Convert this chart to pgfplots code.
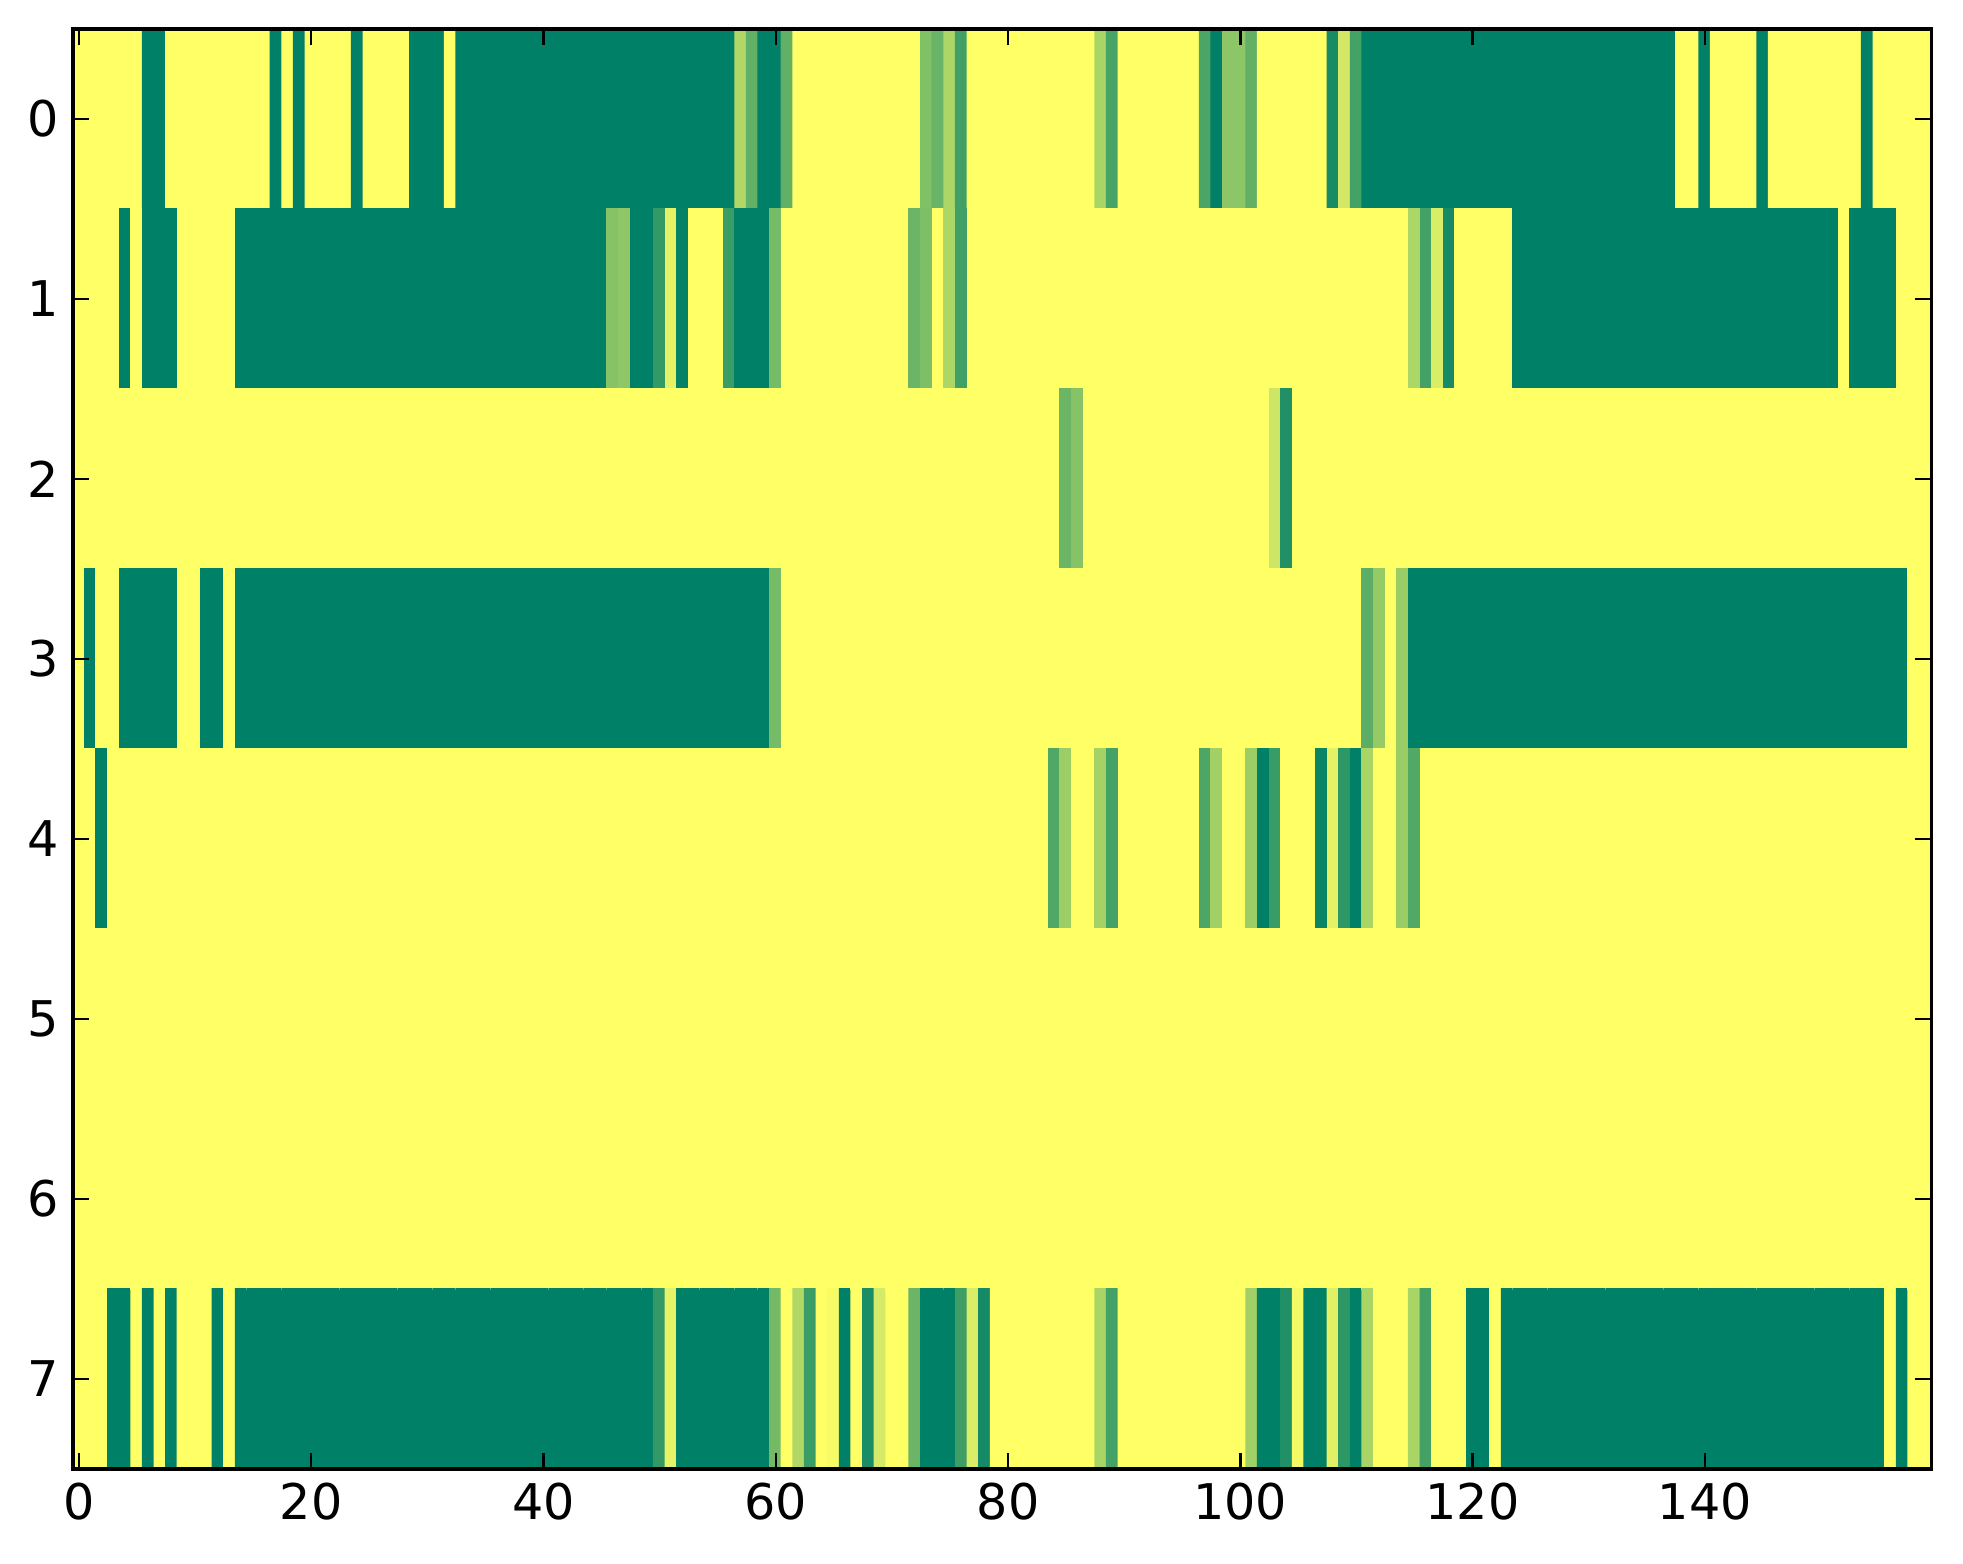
\documentclass[border=0pt]{standalone}
\usepackage{fontspec}
\setmainfont{DejaVu Sans}
\usepackage{pgfplots}
\pgfplotsset{compat=1.18}
\begin{document}
\begin{tikzpicture}
\begin{axis}[
  scale only axis, width=464.6pt, height=360pt,
  xmin=-0.5, xmax=159.5, ymin=-0.5, ymax=7.5, y dir=reverse,
  xtick={0,20,...,140}, ytick={0,...,7},
  tick align=inside, tick pos=both,
  major tick length=4pt,
  axis line style={line width=0.8pt},
  every tick/.style={black, line width=0.6pt},
  colormap={summer}{rgb=(0,0.5,0.4) rgb=(1,1,0.4)},
  point meta min=0, point meta max=1,
  /pgf/number format/assume math mode=true,
  ticklabel style={font=\fontsize{12.3}{14}\selectfont},
  axis on top,
]
\addplot[matrix plot*, mesh/cols=160, point meta=\thisrowno{0}] table[header=false, row sep=\\, x expr={\coordindex-160*floor(\coordindex/160)}, y expr={floor(\coordindex/160)}] {
% row 0
1\\1\\1\\1\\1\\1\\0\\0\\1\\1\\
1\\1\\1\\1\\1\\1\\1\\0\\1\\0\\
1\\1\\1\\1\\0\\1\\1\\1\\1\\0\\
0\\0\\1\\0\\0\\0\\0\\0\\0\\0\\
0\\0\\0\\0\\0\\0\\0\\0\\0\\0\\
0\\0\\0\\0\\0\\0\\0\\0.69\\0.38\\0\\
0\\0.38\\1\\1\\1\\1\\1\\1\\1\\1\\
1\\1\\1\\0.5\\0.41\\0.67\\0.25\\1\\1\\1\\
1\\1\\1\\1\\1\\1\\1\\1\\0.66\\0.28\\
1\\1\\1\\1\\1\\1\\1\\0.29\\0\\0.55\\
0.55\\0.38\\1\\1\\1\\1\\1\\1\\0.09\\0.82\\
0.27\\0\\0\\0\\0\\0\\0\\0\\0\\0\\
0\\0\\0\\0\\0\\0\\0\\0\\0\\0\\
0\\0\\0\\0\\0\\0\\0\\0\\1\\1\\
0\\1\\1\\1\\1\\0\\1\\1\\1\\1\\
1\\1\\1\\1\\0\\1\\1\\1\\1\\1\\
% row 1
1\\1\\1\\1\\0\\1\\0\\0\\0\\1\\
1\\1\\1\\1\\0\\0\\0\\0\\0\\0\\
0\\0\\0\\0\\0\\0\\0\\0\\0\\0\\
0\\0\\0\\0\\0\\0\\0\\0\\0\\0\\
0\\0\\0\\0\\0\\0\\0.52\\0.56\\0\\0\\
0.2\\0.89\\0.02\\1\\1\\1\\0.23\\0\\0\\0\\
0.46\\1\\1\\1\\1\\1\\1\\1\\1\\1\\
1\\1\\0.42\\0.49\\1\\0.67\\0.25\\1\\1\\1\\
1\\1\\1\\1\\1\\1\\1\\1\\1\\1\\
1\\1\\1\\1\\1\\1\\1\\1\\1\\1\\
1\\1\\1\\1\\1\\1\\1\\1\\1\\1\\
1\\1\\1\\1\\1\\0.67\\0.26\\0.85\\0.09\\1\\
1\\1\\1\\1\\0\\0\\0\\0\\0\\0\\
0\\0\\0\\0\\0\\0\\0\\0\\0\\0\\
0\\0\\0\\0\\0\\0\\0\\0\\0\\0\\
0\\0\\1\\0\\0\\0\\0\\1\\1\\1\\
% row 2
1\\1\\1\\1\\1\\1\\1\\1\\1\\1\\
1\\1\\1\\1\\1\\1\\1\\1\\1\\1\\
1\\1\\1\\1\\1\\1\\1\\1\\1\\1\\
1\\1\\1\\1\\1\\1\\1\\1\\1\\1\\
1\\1\\1\\1\\1\\1\\1\\1\\1\\1\\
1\\1\\1\\1\\1\\1\\1\\1\\1\\1\\
1\\1\\1\\1\\1\\1\\1\\1\\1\\1\\
1\\1\\1\\1\\1\\1\\1\\1\\1\\1\\
1\\1\\1\\1\\1\\0.42\\0.52\\1\\1\\1\\
1\\1\\1\\1\\1\\1\\1\\1\\1\\1\\
1\\1\\1\\0.8\\0.13\\1\\1\\1\\1\\1\\
1\\1\\1\\1\\1\\1\\1\\1\\1\\1\\
1\\1\\1\\1\\1\\1\\1\\1\\1\\1\\
1\\1\\1\\1\\1\\1\\1\\1\\1\\1\\
1\\1\\1\\1\\1\\1\\1\\1\\1\\1\\
1\\1\\1\\1\\1\\1\\1\\1\\1\\1\\
% row 3
1\\0\\1\\1\\0\\0\\0\\0\\0\\1\\
1\\0\\0\\1\\0\\0\\0\\0\\0\\0\\
0\\0\\0\\0\\0\\0\\0\\0\\0\\0\\
0\\0\\0\\0\\0\\0\\0\\0\\0\\0\\
0\\0\\0\\0\\0\\0\\0\\0\\0\\0\\
0\\0\\0\\0\\0\\0\\0\\0\\0\\0\\
0.46\\1\\1\\1\\1\\1\\1\\1\\1\\1\\
1\\1\\1\\1\\1\\1\\1\\1\\1\\1\\
1\\1\\1\\1\\1\\1\\1\\1\\1\\1\\
1\\1\\1\\1\\1\\1\\1\\1\\1\\1\\
1\\1\\1\\1\\1\\1\\1\\1\\1\\1\\
1\\0.36\\0.58\\1\\0.6\\0\\0\\0\\0\\0\\
0\\0\\0\\0\\0\\0\\0\\0\\0\\0\\
0\\0\\0\\0\\0\\0\\0\\0\\0\\0\\
0\\0\\0\\0\\0\\0\\0\\0\\0\\0\\
0\\0\\0\\0\\0\\0\\0\\0\\1\\1\\
% row 4
1\\1\\0\\1\\1\\1\\1\\1\\1\\1\\
1\\1\\1\\1\\1\\1\\1\\1\\1\\1\\
1\\1\\1\\1\\1\\1\\1\\1\\1\\1\\
1\\1\\1\\1\\1\\1\\1\\1\\1\\1\\
1\\1\\1\\1\\1\\1\\1\\1\\1\\1\\
1\\1\\1\\1\\1\\1\\1\\1\\1\\1\\
1\\1\\1\\1\\1\\1\\1\\1\\1\\1\\
1\\1\\1\\1\\1\\1\\1\\1\\1\\1\\
1\\1\\1\\1\\0.31\\0.61\\1\\1\\0.64\\0.27\\
1\\1\\1\\1\\1\\1\\1\\0.3\\0.63\\1\\
1\\0.61\\0\\0.22\\1\\1\\1\\0.04\\0.89\\0.18\\
0\\0.66\\1\\1\\0.6\\0.32\\1\\1\\1\\1\\
1\\1\\1\\1\\1\\1\\1\\1\\1\\1\\
1\\1\\1\\1\\1\\1\\1\\1\\1\\1\\
1\\1\\1\\1\\1\\1\\1\\1\\1\\1\\
1\\1\\1\\1\\1\\1\\1\\1\\1\\1\\
% row 5
1\\1\\1\\1\\1\\1\\1\\1\\1\\1\\
1\\1\\1\\1\\1\\1\\1\\1\\1\\1\\
1\\1\\1\\1\\1\\1\\1\\1\\1\\1\\
1\\1\\1\\1\\1\\1\\1\\1\\1\\1\\
1\\1\\1\\1\\1\\1\\1\\1\\1\\1\\
1\\1\\1\\1\\1\\1\\1\\1\\1\\1\\
1\\1\\1\\1\\1\\1\\1\\1\\1\\1\\
1\\1\\1\\1\\1\\1\\1\\1\\1\\1\\
1\\1\\1\\1\\1\\1\\1\\1\\1\\1\\
1\\1\\1\\1\\1\\1\\1\\1\\1\\1\\
1\\1\\1\\1\\1\\1\\1\\1\\1\\1\\
1\\1\\1\\1\\1\\1\\1\\1\\1\\1\\
1\\1\\1\\1\\1\\1\\1\\1\\1\\1\\
1\\1\\1\\1\\1\\1\\1\\1\\1\\1\\
1\\1\\1\\1\\1\\1\\1\\1\\1\\1\\
1\\1\\1\\1\\1\\1\\1\\1\\1\\1\\
% row 6
1\\1\\1\\1\\1\\1\\1\\1\\1\\1\\
1\\1\\1\\1\\1\\1\\1\\1\\1\\1\\
1\\1\\1\\1\\1\\1\\1\\1\\1\\1\\
1\\1\\1\\1\\1\\1\\1\\1\\1\\1\\
1\\1\\1\\1\\1\\1\\1\\1\\1\\1\\
1\\1\\1\\1\\1\\1\\1\\1\\1\\1\\
1\\1\\1\\1\\1\\1\\1\\1\\1\\1\\
1\\1\\1\\1\\1\\1\\1\\1\\1\\1\\
1\\1\\1\\1\\1\\1\\1\\1\\1\\1\\
1\\1\\1\\1\\1\\1\\1\\1\\1\\1\\
1\\1\\1\\1\\1\\1\\1\\1\\1\\1\\
1\\1\\1\\1\\1\\1\\1\\1\\1\\1\\
1\\1\\1\\1\\1\\1\\1\\1\\1\\1\\
1\\1\\1\\1\\1\\1\\1\\1\\1\\1\\
1\\1\\1\\1\\1\\1\\1\\1\\1\\1\\
1\\1\\1\\1\\1\\1\\1\\1\\1\\1\\
% row 7
1\\1\\1\\0\\0\\1\\0\\1\\0\\1\\
1\\1\\0\\1\\0\\0\\0\\0\\0\\0\\
0\\0\\0\\0\\0\\0\\0\\0\\0\\0\\
0\\0\\0\\0\\0\\0\\0\\0\\0\\0\\
0\\0\\0\\0\\0\\0\\0\\0\\0\\0\\
0.2\\0.9\\0\\0\\0\\0\\0\\0\\0\\0\\
0.45\\1\\0.69\\0.23\\1\\0.96\\0\\1\\0.1\\0.83\\
1\\1\\0.42\\0\\0\\0\\0.24\\0.85\\0.08\\1\\
1\\1\\1\\1\\1\\1\\1\\1\\0.66\\0.27\\
1\\1\\1\\1\\1\\1\\1\\1\\1\\1\\
1\\0.63\\0\\0\\0.13\\0.95\\0\\0\\0.88\\0.18\\
0\\0.66\\1\\1\\1\\0.66\\0.26\\1\\1\\1\\
0\\0\\1\\0\\0\\0\\0\\0\\0\\0\\
0\\0\\0\\0\\0\\0\\0\\0\\0\\0\\
0\\0\\0\\0\\0\\0\\0\\0\\0\\0\\
0\\0\\0\\0\\0\\0\\1\\0\\1\\1\\
};
\end{axis}
\pgfresetboundingbox
\path[use as bounding box] ([shift={(-18.25pt,-23.75pt)}]current axis.south west) rectangle ([shift={(7.9pt,7.25pt)}]current axis.north east);
\end{tikzpicture}
\end{document}
